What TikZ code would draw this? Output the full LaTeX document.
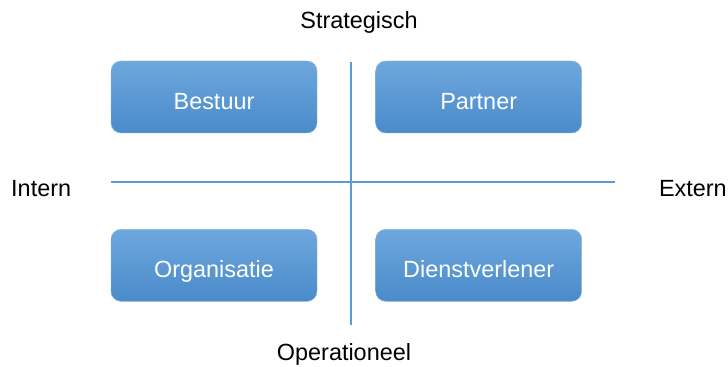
\documentclass[tikz,border=0pt]{standalone}
\usepackage{fontspec}
\setmainfont{Liberation Sans}
\definecolor{axisblue}{HTML}{5B9BD5}
\definecolor{boxtop}{HTML}{6EA7DD}
\definecolor{boxbottom}{HTML}{4A8BCB}
\definecolor{boxedge}{HTML}{8CB8E2}

\tikzset{
  quadrant/.style={draw=boxedge, line width=0.4pt, rounded corners=0.3cm,
    top color=boxtop, bottom color=boxbottom,
    minimum width=6.18cm, minimum height=2.16cm, inner sep=0pt,
    text=white, text height=0.75cm, text depth=0cm,
    font=\fontsize{20}{24}\selectfont},
  axislabel/.style={inner sep=0pt, font=\fontsize{20}{24}\selectfont},
  axis/.style={draw=axisblue, line width=1.7pt}
}

\begin{document}
\begin{tikzpicture}
  \useasboundingbox (0,0) rectangle (21.84,11.01);

  % Axes
  \coordinate (top) at (10.53,9.15);
  \coordinate (bottom) at (10.53,1.26);
  \coordinate (left) at (3.33,5.55);
  \coordinate (right) at (18.45,5.55);
  \draw[axis] (top) -- (bottom);
  \draw[axis] (left) -- (right);

  % Axis labels
  \node[axislabel, anchor=base] (strat) at (10.77,10.14) {Strategisch};
  \node[axislabel, anchor=base] (oper) at (10.32,0.2) {Operationeel};
  \node[axislabel, anchor=base west] (intern) at (0.33,5.10) {Intern};
  \node[axislabel, anchor=base east] (extern) at (21.81,5.10) {Extern};

  % Quadrants
  \node[quadrant] (bestuur) at (6.42,8.10) {Bestuur};
  \node[quadrant] (partner) at (14.36,8.10) {Partner};
  \node[quadrant] (organisatie) at (6.42,3.05) {Organisatie};
  \node[quadrant] (dienst) at (14.36,3.05) {Dienstverlener};
\end{tikzpicture}
\end{document}
